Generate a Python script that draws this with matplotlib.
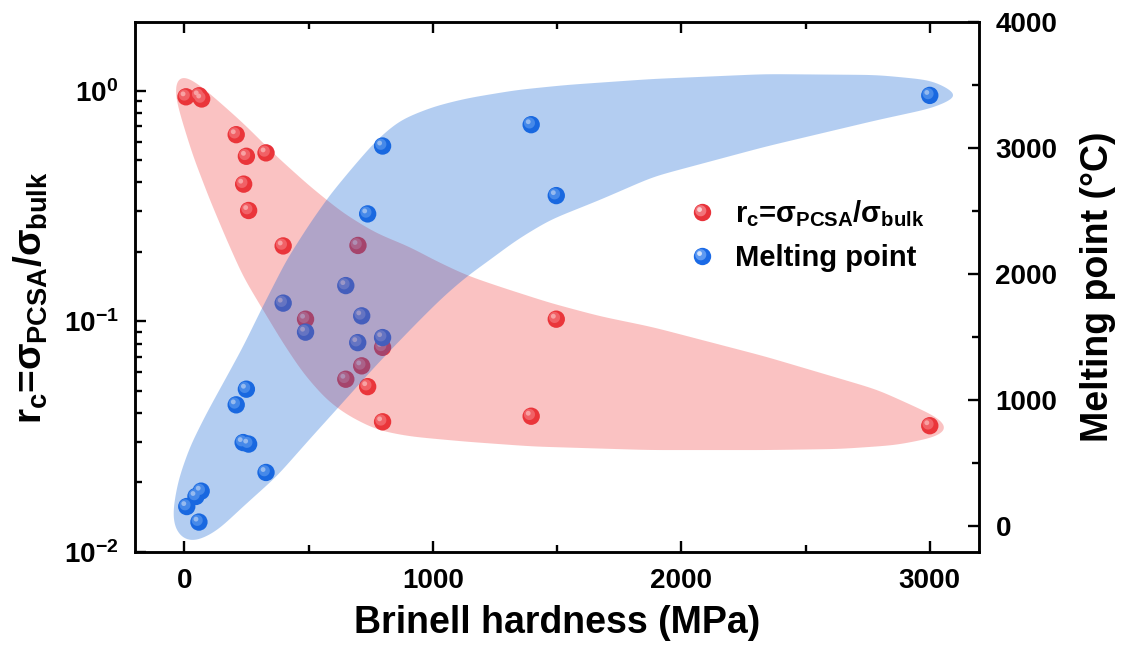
import numpy as np
import matplotlib
matplotlib.use("Agg")
import matplotlib.pyplot as plt
from matplotlib.path import Path
from matplotlib.patches import PathPatch
from matplotlib.lines import Line2D
from matplotlib.legend_handler import HandlerTuple
from matplotlib.ticker import MultipleLocator, LogLocator, NullFormatter, FuncFormatter

plt.rcParams['font.family'] = 'Liberation Sans'
plt.rcParams['font.weight'] = 'bold'
plt.rcParams['axes.labelweight'] = 'bold'
plt.rcParams['mathtext.fontset'] = 'custom'
plt.rcParams['mathtext.rm'] = 'Liberation Sans:bold'
plt.rcParams['mathtext.it'] = 'Liberation Sans:bold'
plt.rcParams['mathtext.bf'] = 'Liberation Sans:bold'
plt.rcParams['mathtext.sf'] = 'Liberation Sans:bold'

# r_c = sigma_PCSA / sigma_bulk (left, log axis)
rc_hardness = [7, 60, 70, 209, 250, 329, 239, 259, 398, 699, 488, 1497,
               798, 714, 650, 738, 798, 1396, 3000]
rc_values = [0.94, 0.95, 0.92, 0.644, 0.519, 0.537, 0.393, 0.302, 0.212, 0.213,
             0.102, 0.102, 0.077, 0.064, 0.056, 0.052, 0.0366, 0.0387, 0.0352]

# melting point (right axis, degC)
mp_hardness = [10, 47, 59, 68, 209, 250, 237, 259, 329, 398, 488, 650, 698,
               714, 738, 798, 798, 1396, 1497, 3000]
mp_values = [158, 238, 35, 280, 964, 1088, 665, 653, 428, 1770, 1540, 1909, 1457,
             1669, 2477, 3015, 1497, 3184, 2622, 3416]

# shaded envelopes
red_hull_x = [-22, 36, 117, 237, 372, 506, 640, 774, 908, 1002, 1136, 1270, 1472,
              1673, 1882, 2339, 2790, 2940, 3040, 3085, 3025, 2865, 2639, 2339,
              1874, 1404, 1136, 908, 774, 654, 573, 479, 398, 305, 237, 171, 103,
              36, -10, -36, -40]
red_hull_y = [1.2, 1.112, 0.942, 0.723, 0.518, 0.384, 0.294, 0.240, 0.210, 0.185,
              0.158, 0.141, 0.120, 0.105, 0.0944, 0.0702, 0.0504, 0.0426, 0.0379,
              0.0340, 0.0314, 0.0290, 0.0279, 0.0276, 0.0276, 0.0286, 0.0300,
              0.0316, 0.0337, 0.0392, 0.0455, 0.0594, 0.0802, 0.1175, 0.156,
              0.225, 0.336, 0.518, 0.746, 0.942, 1.08]
blue_hull_x = [10, -40, -48, -24, 23, 90, 171, 237, 309, 412, 506, 586, 680, 774,
               868, 1002, 1136, 1338, 1539, 1882, 2339, 2790, 3015, 3125, 3015,
               2790, 2339, 1888, 1673, 1472, 1338, 1230, 1136, 1042, 948, 868, 774,
               613, 506, 372, 237, 130, 50]
blue_hull_y = [-135, -40, 106, 370, 634, 898, 1188, 1426, 1716, 2113, 2403, 2627,
               2851, 3063, 3221, 3327, 3393, 3459, 3499, 3546, 3585, 3578, 3535,
               3414, 3317, 3221, 3010, 2772, 2588, 2430, 2271, 2113, 1980, 1820,
               1637, 1475, 1281, 928, 695, 396, 158, -40, -120]

rc_label = r'$r_c$=$\sigma_{PCSA}$/$\sigma_{bulk}$'


def smooth_closed(px, py, sx, sy, sigma=7.0, step=1.0):
    # resample outline by arc length (in screen-like units) and blur it circularly
    p = np.column_stack([np.asarray(px, float) * sx, np.asarray(py, float) * sy])
    p = np.vstack([p, p[:1]])
    seg = np.hypot(*np.diff(p, axis=0).T)
    s = np.concatenate([[0], np.cumsum(seg)])
    n = int(s[-1] / step)
    u = np.linspace(0, s[-1], n, endpoint=False)
    q = np.column_stack([np.interp(u, s, p[:, 0]), np.interp(u, s, p[:, 1])])
    k = np.arange(-int(4 * sigma), int(4 * sigma) + 1)
    w = np.exp(-0.5 * (k / sigma) ** 2)
    w /= w.sum()
    out = np.zeros_like(q)
    for kk, ww in zip(k, w):
        out += ww * np.roll(q, kk, axis=0)
    return out[:, 0] / sx, out[:, 1] / sy


def spot(dx, dy, r):
    # offset circle used as a marker; returns path and size factor vs. base 'o'
    t = np.linspace(0, 2 * np.pi, 48)
    v = np.column_stack([dx + r * np.cos(t), dy + r * np.sin(t)])
    return Path(v, closed=True), 2 * np.abs(v).max()


spots = [spot(-0.10, 0.10, 0.32), spot(-0.17, 0.17, 0.14)]
ms = 12.5
red_cols = ['#e8323a', '#f2737a', '#fcd0d2']
blue_cols = ['#1b6ae6', '#5e9af2', '#d2e2fb']

fig = plt.figure(figsize=(11.27, 6.5), dpi=100)
ax1 = fig.add_axes([0.1194, 0.1512, 0.7497, 0.8154])
ax2 = ax1.twinx()


def balls(ax, x, y, cols):
    ax.scatter(x, y, s=ms ** 2, c=cols[0], edgecolors='none', zorder=2)
    for (pth, f), c in zip(spots, cols[1:]):
        ax.scatter(x, y, s=(ms * f) ** 2, c=c, marker=pth, edgecolors='none',
                   zorder=2.1)


balls(ax1, rc_hardness, rc_values, red_cols)
balls(ax2, mp_hardness, mp_values, blue_cols)

# envelopes on top of the points, semi transparent
rx, ry = smooth_closed(red_hull_x, np.log10(red_hull_y), 0.2485, 230.5, sigma=11)
ax2.add_patch(PathPatch(Path(np.column_stack([rx, 10 ** ry]), closed=True),
                        transform=ax1.transData, facecolor='#f03c3c',
                        edgecolor='none', alpha=0.31, zorder=3))
bx, by = smooth_closed(blue_hull_x, blue_hull_y, 0.2485, 0.12625, sigma=11)
ax2.add_patch(PathPatch(Path(np.column_stack([bx, by]), closed=True),
                        facecolor='#1566d6', edgecolor='none', alpha=0.32, zorder=4))

ax1.set_xlim(-200, 3200)
ax1.set_yscale('log')
ax1.set_ylim(0.01, 1.99)
ax2.set_ylim(-200, 4000)

ax1.xaxis.set_major_locator(MultipleLocator(1000))
ax1.xaxis.set_minor_locator(MultipleLocator(500))
ax1.yaxis.set_major_locator(LogLocator(base=10, numticks=10))
ax1.yaxis.set_minor_locator(LogLocator(base=10, subs=np.arange(2, 10), numticks=10))
ax1.yaxis.set_minor_formatter(NullFormatter())
ax1.yaxis.set_major_formatter(FuncFormatter(lambda v, p: r'$10^{%d}$' % round(np.log10(v))))
ax2.yaxis.set_major_locator(MultipleLocator(1000))
ax2.yaxis.set_minor_locator(MultipleLocator(500))

ax1.tick_params(which='both', direction='in', top=True, right=False, width=1.7,
                labelsize=20, pad=11.5)
ax1.tick_params(which='major', length=8)
ax1.tick_params(which='minor', length=5)
ax2.tick_params(which='both', direction='in', width=1.7, labelsize=20, pad=11.5)
ax2.tick_params(which='major', length=8)
ax2.tick_params(which='minor', length=5)
for ax in (ax1, ax2):
    for sp in ax.spines.values():
        sp.set_linewidth(1.8)

ax1.set_xlabel('Brinell hardness (MPa)', fontsize=27, fontweight='bold')
ax1.xaxis.set_label_coords(0.5, -0.100)
ax1.set_ylabel(rc_label, fontsize=28)
ax1.yaxis.set_label_coords(-0.100, 0.479)
ax2.set_ylabel('Melting point (°C)', fontsize=27, fontweight='bold')
ax2.yaxis.set_label_coords(1.119, 0.5)


def legend_handle(cols):
    hs = [Line2D([], [], ls='none', marker='o', ms=ms, mfc=cols[0], mec='none')]
    for (pth, f), c in zip(spots, cols[1:]):
        hs.append(Line2D([], [], ls='none', marker=pth, ms=ms * f, mfc=c, mec='none'))
    return tuple(hs)


ax2.legend([legend_handle(red_cols), legend_handle(blue_cols)],
           [rc_label, 'Melting point'],
           handler_map={tuple: HandlerTuple(ndivide=1, pad=0)},
           loc='center left', bbox_to_anchor=(0.654, 0.597), frameon=False,
           fontsize=21, borderpad=0, borderaxespad=0, handlelength=1.0,
           handletextpad=0.63, labelspacing=0.5)

fig.savefig('out.png', dpi=100)
